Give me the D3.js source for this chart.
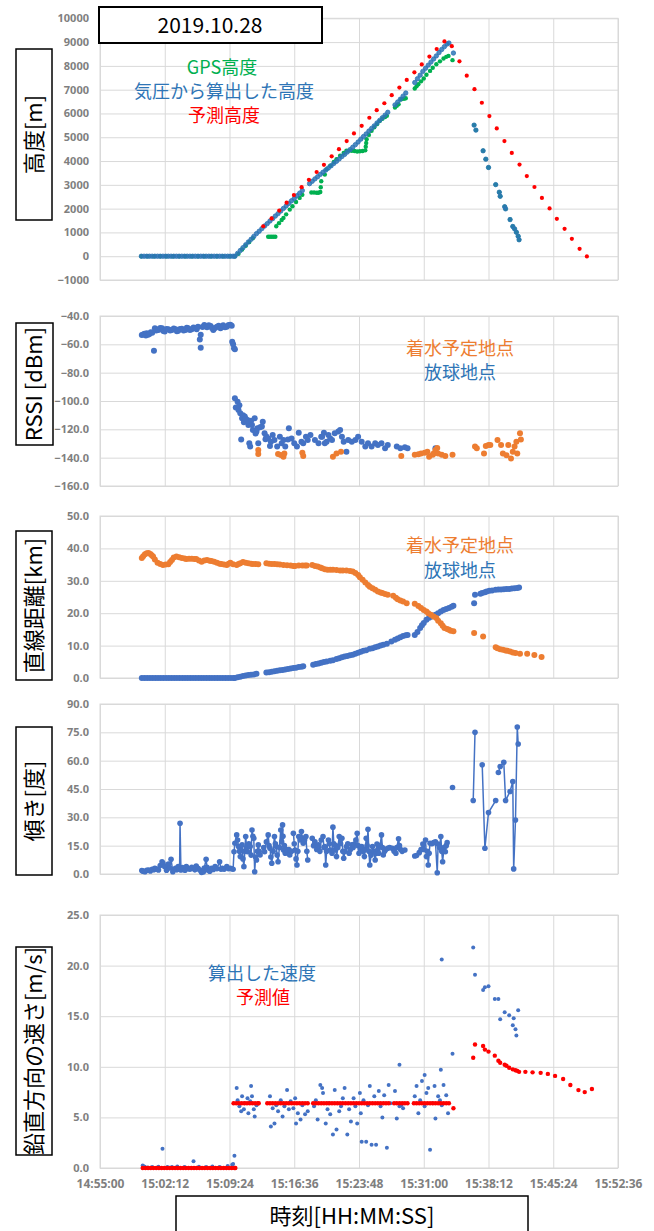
<!DOCTYPE html>
<html>
<head>
<meta charset="utf-8">
<script src="https://cdn.jsdelivr.net/npm/d3@7"></script>
<style>
body { margin: 0; background: #fff; }
text { font-family: "Noto Sans CJK JP", "Noto Sans", sans-serif; }
</style>
</head>
<body>
<div id="chart"></div>
<script>
// Balloon flight log 2019.10.28 - five stacked panels sharing one time axis
// all series times are minutes after 15:00:00

let xTickLabels = ["14:55:00","15:02:12","15:09:24","15:16:36","15:23:48","15:31:00","15:38:12","15:45:24","15:52:36"];

let altTicks = [-1000,0,1000,2000,3000,4000,5000,6000,7000,8000,9000,10000];
let rssiTicks = [-160,-140,-120,-100,-80,-60,-40];
let distTicks = [0,10,20,30,40,50];
let tiltTicks = [0,15,30,45,60,75,90];
let speedTicks = [0,5,10,15,20,25];

// altitude from GPS
let gpsAlt = [[-0.4,0],[0.3,0],[1.0,0],[1.7,0],[2.4,0],[3.1,0],[3.8,0],[4.5,0],[5.2,0],[5.9,0],[6.6,0],[7.3,0],[8.0,0],[8.7,0],[9.4,0],[10.0,0],
  [10.4,100],[10.8,280],[11.2,440],[11.6,600],[12.0,760],
  [13.7,820],[13.9,820],[14.1,820],[14.3,815],[14.5,820],
  [14.6,1260],[14.9,1390],[15.2,1520],[15.4,1610],[15.7,1760],[16.1,1960],[16.4,2100],[16.8,2280],[17.2,2450],[17.5,2580],
  [18.5,2680],[18.8,2680],[19.1,2670],[19.3,2670],[19.5,2700],[19.55,2900],
  [19.6,3150],[20.0,3430],[20.2,3660],[20.6,3800],[21.0,3960],[21.3,4080],[21.7,4220],[22.1,4340],[22.4,4430],
  [22.7,4440],[23.0,4430],[23.3,4420],[23.6,4400],[23.9,4410],[24.2,4420],[24.5,4450],[24.55,4600],[24.6,4760],
  [24.65,4920],[24.9,5100],[25.2,5270],[25.5,5420],[25.8,5550],[26.1,5680],[26.4,5780],[26.7,5850],[26.9,5900],
  [27.8,6250],[28.0,6320],[28.2,6390],[28.5,6600],[28.8,6620],[29.0,6640],
  [30.0,7050],[30.2,7140],[30.4,7230],[30.7,7350],[31.0,7470],[31.3,7630],[31.7,7790],[32.0,7920],[32.4,8070],[32.8,8190],[33.2,8310],[33.5,8380],[33.75,8420],[34.2,8240],
  [36.6,5510],[36.8,5300],[37.6,4430],[37.9,4080],[38.2,3730],[39.0,3010],[39.4,2690],[39.5,2520],[40.0,2080],[40.1,1990],[40.6,1540],[40.9,1250],[41.1,1150],[41.3,1010],[41.5,840],[41.6,690]];

// altitude computed from air pressure
let baroAlt = [[-0.4,0],[-0.1,0],[0.2,0],[0.5,0],[0.8,0],[1.1,0],[1.4,0],[1.7,0],[2.0,0],[2.3,0],[2.6,0],[2.9,0],[3.2,0],[3.5,0],[3.8,0],[4.1,0],[4.4,0],[4.7,0],[5.0,0],[5.3,0],[5.6,0],[5.9,0],[6.2,0],[6.5,0],[6.8,0],[7.1,0],[7.4,0],[7.7,0],[8.0,0],[8.3,0],[8.6,0],[8.9,0],[9.2,0],[9.5,0],[9.8,0],[10.0,0],
  [10.3,120],[10.6,240],[10.9,360],[11.2,480],[11.5,600],[11.8,710],[12.1,830],[12.4,950],[12.7,1050],[13.0,1160],[13.3,1270],[13.6,1370],[13.9,1480],[14.2,1580],[14.5,1690],[14.8,1790],[15.1,1900],[15.4,2010],[15.7,2110],[16.0,2220],[16.3,2330],[16.6,2430],[16.9,2540],[17.2,2650],[17.5,2760],
  [18.3,3050],[18.6,3150],[18.9,3250],[19.2,3340],[19.5,3440],[19.8,3530],[20.1,3620],[20.4,3710],[20.7,3800],[21.0,3900],[21.3,3990],[21.6,4090],[21.9,4190],[22.2,4280],[22.5,4380],[22.8,4480],[23.1,4580],[23.4,4690],[23.7,4800],[24.0,4920],[24.3,5030],[24.6,5140],[24.9,5260],[25.2,5370],[25.5,5480],[25.8,5600],[26.1,5710],[26.4,5820],[26.7,5930],[27.0,6050],
  [27.8,6360],[28.1,6480],[28.4,6600],[28.7,6730],[29.0,6860],
  [30.0,7300],[30.3,7460],[30.6,7610],[30.9,7770],[31.2,7900],[31.5,8030],[31.8,8160],[32.1,8290],[32.4,8420],[32.7,8560],[33.0,8690],[33.3,8810],[33.6,8920],[33.8,8960],[34.3,8540],
  [36.6,5510],[36.8,5300],[37.6,4430],[37.9,4080],[38.2,3730],[39.0,3010],[39.4,2690],[39.5,2520],[40.0,2080],[40.1,1990],[40.6,1540],[40.9,1250],[41.1,1150],[41.3,1010],[41.5,840],[41.6,690]];

// predicted altitude
let predAlt = [[13.15,1260],[14.08,1590],[14.93,1920],[15.75,2250],[16.56,2570],[17.42,2900],[18.23,3210],[19.09,3540],[19.9,3840],
  [20.76,4200],[21.57,4500],[22.43,4840],[23.24,5160],[24.1,5480],[24.95,5820],[25.77,6140],[26.62,6430],[27.44,6770],[28.29,7090],[29.11,7410],[29.96,7730],[30.78,8060],[31.63,8390],[32.44,8710],[33.3,9030],
  [34.12,8830],[34.97,8190],[35.78,7590],[36.64,7020],[37.46,6450],[38.3,5890],[39.12,5370],[39.97,4840],[40.79,4340],[41.65,3850],[42.46,3370],[43.31,2910],[44.14,2450],[44.99,2010],[45.8,1570],[46.66,1150],[47.47,730],[48.33,310],[49.14,-10]];

// RSSI of the launch site receiver
let rssiLaunch = [[-0.35,-53.4],[-0.2,-53],[-0.05,-52.6],[0.1,-53.8],[0.2,-52.2],[0.35,-53.2],[0.5,-52.7],[0.65,-51.5],[0.8,-51.8],[1.0,-64.5],[1.1,-48.7],[1.25,-50.2],[1.4,-49.5],[1.5,-49.9],[1.7,-48.4],[1.9,-48.7],[2.05,-50.5],[2.2,-51],[2.4,-49.2],[2.6,-49.4],[2.8,-50.3],[3.0,-49.9],[3.2,-48.9],[3.4,-49.4],[3.55,-50.8],[3.7,-50.4],[3.9,-49.1],[4.1,-49],[4.3,-50.2],[4.5,-49.9],[4.65,-48.3],[4.8,-48.7],[5.0,-49.8],[5.2,-49.4],[5.4,-48.1],[5.6,-48.5],[5.75,-49.3],[5.9,-47.5],[6.1,-56.5],[6.2,-53.2],[6.2,-62.4],[6.4,-47.8],[6.6,-46.4],[6.75,-47.2],[6.9,-48],[7.1,-46.6],[7.3,-47],[7.45,-48.5],[7.6,-49.9],[7.8,-48.4],[8.0,-47.5],[8.2,-46.8],[8.4,-48.7],[8.55,-47.7],[8.7,-46.6],[8.9,-47.9],[9.1,-47.5],[9.3,-46.3],[9.5,-46.1],[9.65,-46.8],[9.7,-58.1],[9.8,-60],[9.9,-62.8],[10.0,-63.5],
  [10.0,-98.1],[10.3,-100.5],[10.1,-104.5],[10.4,-106.4],[10.5,-103],[10.6,-108.7],[10.7,-127.1],[10.8,-112.2],[10.9,-110],[11.0,-115],[11.1,-111],[11.2,-112.5],[11.4,-113.4],[11.5,-117],[11.6,-129.9],[11.7,-132.2],[11.8,-114],[11.9,-116.9],[12.0,-120.5],[12.2,-112.2],[12.3,-123],[12.4,-121.6],[12.5,-119.3],[12.6,-129.9],[12.8,-118.6],[13.0,-118],[13.1,-114.6],[13.3,-122.8],[13.4,-127],[13.5,-125],[13.7,-126.4],[13.9,-131.8],[14.0,-128.7],[14.2,-124],[14.4,-127.5],[14.7,-132.2],[15.0,-125.2],[15.2,-129.9],[15.4,-127.5],[15.6,-132.2],[15.9,-127.1],[16.0,-119.3],[16.3,-126.4],[16.6,-129.9],[16.9,-132.2],[17.1,-122.4],[17.4,-128.7],[17.6,-129.9],[17.9,-125.2],[18.1,-127.5],[18.4,-124],[18.9,-127.5],[19.3,-129.9],[19.6,-125.2],[19.7,-125.2],[19.9,-122.4],[20.0,-129.9],[20.2,-128.7],[20.4,-124],[20.6,-126.4],[20.8,-127.5],[21.1,-122.8],[21.5,-121.6],[21.7,-120.5],[21.9,-125.2],[22.1,-128.7],[22.4,-135.8],[22.6,-127.5],[23.0,-128.7],[23.4,-127.5],[23.7,-125.2],[24.1,-128.7],[24.5,-132.2],[24.8,-129.9],[25.2,-132.2],[25.6,-129.9],[25.9,-131],[26.3,-129.9],[26.7,-133.4],[27.0,-131],[28.0,-132.2],[28.4,-133.4],[28.9,-132.7],[29.2,-133.4],[32.3,-133.4]];

// RSSI of the planned splash-down site receiver
let rssiLanding = [[12.6,-134.6],[12.6,-137.4],[14.8,-137.4],[15.1,-138.2],[15.4,-139.3],[15.5,-137],[17.5,-136.5],[17.6,-138.8],[20.9,-139.3],[21.3,-137],[21.8,-135.8],[28.5,-138.8],[30.0,-138],[30.4,-137.5],[30.7,-137],[31.1,-136.5],[31.4,-135.8],[31.6,-139.3],[32.0,-138],[32.1,-137],[32.3,-134.5],[32.5,-133.2],[32.6,-137],[33.0,-138],[33.4,-138.8],[34.2,-138],[36.7,-132.2],[36.9,-133.4],[37.7,-137],[37.9,-131.8],[38.2,-131],[38.4,-131],[39.2,-127.5],[39.6,-131],[39.8,-137],[40.2,-138.3],[40.4,-131],[40.7,-140.5],[40.9,-135.8],[41.1,-132.2],[41.3,-128.7],[41.4,-137],[41.7,-122.8],[41.8,-127.1]];

// straight-line distance [km] from the splash-down site
let distLanding = [[-0.35,37],[-0.2,37.6],[0.0,38.2],[0.2,38.5],[0.4,38.6],[0.6,38.3],[0.75,37.9],[0.9,37.5],[1.1,36.6],[1.4,35.6],[1.7,35.2],[2.0,34.9],[2.3,35],[2.6,35.1],[2.8,35.8],[3.0,36.4],[3.2,37.2],[3.5,37.5],[3.8,37.3],[4.1,37],[4.4,36.9],[4.6,36.7],[4.9,36.8],[5.2,36.8],[5.5,36.7],[5.7,36.7],[6.0,36.3],[6.3,35.9],[6.6,36.3],[6.9,36.4],[7.2,36.2],[7.4,36.1],[7.7,35.9],[8.0,35.6],[8.3,35.3],[8.5,35.2],[8.8,35.0],[9.1,34.9],[9.3,35.3],[9.5,35.6],[9.8,35.1],[10.2,34.9],[10.4,35.2],[10.6,35.4],[10.9,35.8],[11.2,35.6],[11.5,35.4],[11.8,35.3],[12.0,35.2],[12.3,35.2],[12.6,35.1],
  [13.5,35.4],[13.8,35.3],[14.1,35.2],[14.4,35.2],[14.7,35.1],[15.0,35],[15.4,34.9],[15.8,34.8],[16.2,34.7],[16.5,34.6],[16.7,34.6],[17.1,34.7],[17.5,34.7],[17.8,34.7],[18.0,34.7],
  [18.6,34.9],[18.9,34.6],[19.2,34.4],[19.5,34.1],[19.7,33.9],[20.0,33.6],[20.3,33.4],[20.6,33.4],[20.9,33.4],[21.3,33.3],[21.7,33.2],[22.0,33.2],[22.4,33.2],[22.8,33.0],[23.1,32.9],[23.4,32.4],[23.7,31.8],[23.9,31.1],[24.2,30.3],[24.5,29.5],[24.8,28.7],[25.0,28.2],[25.3,27.7],[25.6,27.2],[25.9,26.7],[26.2,26.4],[26.4,26.2],[26.7,25.9],[27.0,25.7],
  [27.6,25.4],[27.9,24.8],[28.1,24.3],[28.4,23.9],[28.7,23.6],[29.1,23.1],
  [30.0,22.9],[30.4,22.2],[30.7,21.6],[31.0,21.0],[31.3,20.5],[31.5,20.0],[31.8,19.5],[32.1,19.0],[32.4,18.5],[32.6,17.7],[32.9,16.9],[33.1,16.1],[33.3,15.4],[33.6,15.1],[33.8,14.9],[34.0,14.6],[34.3,14.4],
  [36.6,13.9],[37.6,12.8],
  [39.0,9.5],[39.2,9.2],[39.5,8.9],[39.8,8.7],[40.1,8.5],[40.3,8.4],[40.6,8.2],[40.9,7.9],[41.2,7.7],[41.7,7.5],[42.5,7.5],[43.3,7.1],[44.1,6.5]];

// straight-line distance [km] from the launch site
let distLaunch = [[-0.35,0],[-0.05,0],[0.25,0],[0.55,0],[0.85,0],[1.15,0],[1.45,0],[1.75,0],[2.05,0],[2.35,0],[2.65,0],[2.95,0],[3.25,0],[3.55,0],[3.85,0],[4.15,0],[4.45,0],[4.75,0],[5.05,0],[5.35,0],[5.65,0],[5.95,0],[6.25,0],[6.55,0],[6.85,0],[7.15,0],[7.45,0],[7.75,0],[8.05,0],[8.35,0],[8.65,0],[8.95,0],[9.25,0],[9.55,0],[9.85,0],[10.0,0],
  [10.3,0.2],[10.6,0.4],[10.9,0.6],[11.2,0.8],[11.5,0.9],[11.8,1.0],[12.1,1.1],[12.4,1.3],
  [13.5,1.7],[13.8,1.8],[14.1,1.9],[14.4,2.1],[14.7,2.2],[15.0,2.4],[15.3,2.5],[15.6,2.6],[15.9,2.8],[16.2,2.9],[16.5,3.1],[16.8,3.2],[17.1,3.4],[17.4,3.5],[17.6,3.6],
  [18.7,4.1],[19.0,4.3],[19.3,4.5],[19.6,4.7],[19.9,4.9],[20.2,5.1],[20.6,5.3],[20.9,5.5],[21.3,5.9],[21.6,6.1],[21.9,6.4],[22.2,6.6],[22.5,6.8],[22.8,7.0],[23.1,7.2],[23.4,7.5],[23.7,7.8],[24.0,8.1],[24.3,8.4],[24.6,8.6],[25.0,9.0],[25.3,9.2],[25.6,9.5],[25.9,9.7],[26.2,10.0],[26.5,10.3],[26.9,10.6],
  [27.4,11.3],[27.8,11.8],[28.1,12.2],[28.4,12.6],[28.7,13.0],[29.0,13.2],[29.2,13.3],
  [30.0,13.3],[30.3,14.2],[30.6,15.4],[30.8,16.3],[31.0,17.0],[31.3,18.0],[31.6,18.6],[31.9,19.0],[32.3,19.5],[32.6,20.0],[32.9,20.5],[33.2,21.0],[33.5,21.3],[33.8,21.6],[34.1,22.0],[34.3,22.3],
  [36.6,23.1],[36.7,25.7],[37.3,26.0],[37.5,26.2],[37.8,26.5],[38.0,26.7],[38.3,26.9],[38.6,27.0],[39.0,27.2],[39.3,27.3],[39.6,27.3],[39.9,27.4],[40.2,27.5],[40.5,27.5],[40.8,27.6],[41.1,27.7],[41.4,27.8],[41.6,27.9]];

// tilt [deg], null = gap in the line
let tilt = [[-0.35,1.8],[-0.2,1.5],[0.0,1.2],[0.2,2.0],[0.4,2.1],[0.6,1.6],[0.8,2.5],[1.0,2.2],[1.1,3],[1.3,2.6],[1.5,2.1],[1.7,4.5],[1.9,6.5],[2.0,5.7],[2.2,3.9],[2.4,2.0],[2.6,5.3],[2.75,3.2],[2.9,7.8],[3.1,1.2],[3.25,2.4],[3.4,3],[3.55,2.2],[3.7,3.9],[3.85,2.6],[3.9,26.9],[4.0,2.1],[4.15,3.4],[4.3,3],[4.45,2.0],[4.6,3.9],[4.8,2.8],[5.0,2.5],[5.2,3.5],[5.4,3],[5.55,2.2],[5.7,4.2],[5.9,3.0],[6.1,2.1],[6.3,0.8],[6.5,1.2],[6.6,3.2],[6.8,7.8],[6.9,3.5],[7.0,2.1],[7.2,1.5],[7.4,3],[7.6,2.4],[7.8,3.9],[8.0,2.8],[8.3,6.5],[8.45,2.6],[8.6,3],[8.8,2.5],[9.1,3.9],[9.3,2.8],[9.5,3],[9.65,2.8],[9.8,2.5],
  [9.9,11.8],[10.0,16.3],[10.2,20.7],[10.3,18],[10.4,14.5],[10.5,12],[10.6,9.2],[10.7,12.5],[10.8,15.4],[10.9,8],[11.0,3.9],[11.1,12],[11.2,19.8],[11.3,14],[11.4,11.8],[11.55,16],[11.7,14.5],[11.8,10],[11.9,23.3],[12.0,20],[12.1,18.9],[12.2,1.2],[12.3,9],[12.4,7.4],[12.5,12],[12.6,15.4],[12.7,12],[12.8,10.1],
  null,
  [13.2,14],[13.3,11.8],[13.5,17],[13.7,20.7],[13.8,15],[13.9,13.6],[14.0,9],[14.1,5.7],[14.25,12],[14.4,19.8],[14.5,16],[14.6,14.5],[14.7,10],[14.8,6.5],[14.95,14],[15.1,23.3],[15.2,17],[15.3,26],[15.35,20],[15.4,12.7],[15.5,15],[15.6,11],[15.75,13],[15.9,11.8],[16.0,13],[16.1,10.1],[16.3,12],
  null,
  [16.5,21.6],[16.6,16],[16.7,12.7],[16.8,8],[16.9,4.8],[17.0,12],[17.1,19.8],[17.25,18],[17.4,22.5],[17.5,19],[17.6,16.3],[17.75,18],[17.9,19.8],[18.0,12],[18.1,7.4],
  null,
  [18.6,18.9],[18.75,15],[18.9,17.1],[19.1,13],[19.3,15.4],[19.45,12],[19.6,18],[19.8,19.8],[19.9,14],[20.0,14.5],[20.1,4.8],[20.2,12],[20.4,18],[20.5,16],[20.6,12.7],[20.8,11],[20.9,24.8],[21.0,16],[21.1,12.7],[21.2,15],[21.3,9.2],[21.45,14],[21.6,19.8],[21.75,16],[21.9,18.9],[22.0,12],[22.1,8.3],[22.25,12],[22.4,14.5],[22.55,16],[22.7,11],[22.85,13],[23.0,15.4],[23.15,14],[23.3,15.9],[23.45,18],[23.6,21.6],[23.7,15],[23.8,11],[23.95,13],[24.1,14.5],[24.25,12],[24.4,9.2],[24.5,13],[24.6,18.9],[24.7,15],[24.8,23.7],[24.9,12],[25.0,4.8],[25.15,10],[25.3,14.5],[25.45,12],[25.6,7.4],[25.7,11],[25.8,15.9],[25.9,13],[26.0,11],[26.15,15],[26.3,20.7],[26.4,14],[26.5,10.1],[26.65,12],[26.8,13.1],
  null,
  [27.0,13.6],[27.2,14],[27.5,13.6],[27.7,12],[27.9,11],[28.0,14],[28.2,18.6],[28.3,15],[28.4,13.1],[28.6,12],[28.9,12.7],
  null,
  [30.0,9.5],[30.2,9.8],[30.5,11.3],[30.7,13],[30.9,15.9],[31.0,13],[31.2,18],[31.3,9.2],[31.4,12],[31.5,4.8],[31.6,11],[31.7,16.3],[31.9,16],[32.1,16.6],[32.3,17.1],[32.5,0.7],[32.6,15.9],[32.75,14],[32.9,19.8],[33.0,12],[33.1,6.5],[33.25,14],[33.4,11.8],[33.5,15],[33.6,16.6],
  null,
  [34.2,45.8],
  null,
  [36.5,38.9],[36.7,75],
  null,
  [37.5,57.8],[37.8,13.6],[38.2,32.5],[39.0,38.9],
  null,
  [39.3,53.7],[39.5,56.9],[39.9,59.1],[40.1,38.9],[40.6,43.7],[40.9,49],[41.0,2.7],[41.2,28.6],[41.4,77.8],[41.5,68.8]];

// vertical speed computed from the altitude [m/s]
let speedCalc = [[-0.25,0.25],[-0.1,0.15],[0.0,0.1],[0.3,0.05],[0.8,0.1],[1.5,0.12],[1.95,1.9],[2.5,0.1],[3.0,0.1],[3.6,0.15],[4.4,0.1],[5.4,0.66],[6.0,0.12],[6.8,0.1],[7.5,0.15],[8.3,0.1],[9.2,0.2],[9.7,0.33],[9.8,0.4],[9.95,1.2],
  [10.2,7.9],[10.3,6.7],[10.5,6.1],[10.7,5.6],[10.8,7.1],[11.0,5.8],[11.1,6.4],[11.4,6.9],[11.5,5.4],[11.7,6.6],[11.8,8.1],[11.9,7.1],[12.1,5.8],[12.2,5.1],[12.4,6.2],
  [13.9,7.1],[14.0,4.1],[14.2,5.9],[14.4,4.4],[14.6,6.2],[14.8,5.6],[15.1,6.7],[15.3,5.1],[15.5,6.1],[15.8,7.7],[16.0,5.8],[16.2,6.6],[16.5,5.9],[16.7,6.9],[16.8,4.4],[17.0,5.4],[17.3,4.8],[17.5,6.2],[17.8,5.3],[18.1,5.6],
  [18.8,6.1],[19.0,6.7],[19.2,4.8],[19.5,8.2],[19.7,7.9],[19.8,7.4],[20.1,4.4],[20.3,5.8],[20.4,6.4],[20.6,5.3],[20.9,3.3],[21.1,7.7],[21.3,3.8],[21.6,5.6],[21.8,6.1],[22.0,6.9],[22.2,7.9],[22.5,3.3],[22.7,5.8],[22.9,4.6],[23.2,6.9],[23.4,6.1],[23.6,4.4],[23.9,7.4],[24.0,5.4],[24.1,2.6],[24.3,6.7],[24.6,2.6],[24.8,6.2],[25.0,8.1],[25.2,2.3],[25.5,7.1],[25.7,2.3],[26.0,7.6],[26.2,6.1],[26.4,5.0],[26.6,7.2],[26.9,2.0],[27.1,8.2],[27.3,6.4],
  [27.8,7.6],[28.0,4.9],[28.3,6.1],[28.5,6.2],[28.7,5.9],
  [30.0,7.1],[30.2,8.1],[30.4,5.4],[30.6,6.7],[30.8,8.6],[31.1,6.1],[31.3,7.4],[31.5,7.9],[31.7,1.8],[32.0,6.4],[32.2,8.1],[32.3,4.9],[32.6,7.1],[32.8,6.7],[33.0,6.2],[33.2,8.2],[33.5,7.2],[33.7,5.4],
  [28.3,10.2],[31.1,9.2],[32.9,9.7],[33.0,20.6],[34.2,11.3],
  [36.5,21.8],[36.7,19.1],[37.6,17.6],[37.8,17.85],[38.2,17.95],[38.9,16.7],[39.3,16.7],[39.5,14.7],[40.0,15.4],[40.5,15.1],[40.9,14.1],[41.0,14.8],[41.2,13.7],[41.3,13.1],[41.5,15.6]];

// predicted vertical speed [m/s]
let speedPred = [[-0.25,0],[0.05,0],[0.35,0],[0.65,0],[0.95,0],[1.25,0],[1.55,0],[1.85,0],[2.15,0],[2.45,0],[2.75,0],[3.05,0],[3.35,0],[3.65,0],[3.95,0],[4.25,0],[4.55,0],[4.85,0],[5.15,0],[5.45,0],[5.75,0],[6.05,0],[6.35,0],[6.65,0],[6.95,0],[7.25,0],[7.55,0],[7.85,0],[8.15,0],[8.45,0],[8.75,0],[9.05,0],[9.35,0],[9.65,0],[9.95,0],[10.05,0],
  [9.85,6.4],[10.15,6.4],[10.45,6.4],[10.75,6.4],[11.05,6.4],[11.35,6.4],[11.65,6.4],[11.95,6.4],[12.25,6.4],[12.55,6.4],[12.65,6.4],
  [13.6,6.4],[13.9,6.4],[14.2,6.4],[14.5,6.4],[14.8,6.4],[15.1,6.4],[15.4,6.4],[15.7,6.4],[16.0,6.4],[16.3,6.4],[16.6,6.4],[16.9,6.4],[17.2,6.4],[17.5,6.4],[17.8,6.4],[18.1,6.4],
  [18.7,6.4],[19.0,6.4],[19.3,6.4],[19.6,6.4],[19.9,6.4],[20.2,6.4],[20.5,6.4],[20.8,6.4],[21.1,6.4],[21.4,6.4],[21.7,6.4],[22.0,6.4],[22.3,6.4],[22.6,6.4],[22.9,6.4],[23.2,6.4],[23.5,6.4],[23.8,6.4],[24.1,6.4],[24.4,6.4],[24.7,6.4],[25.0,6.4],[25.3,6.4],[25.6,6.4],[25.9,6.4],[26.2,6.4],[26.5,6.4],[26.8,6.4],[27.1,6.4],
  [27.7,6.4],[28.0,6.4],[28.3,6.4],[28.6,6.4],[28.9,6.4],[29.2,6.4],
  [29.9,6.4],[30.2,6.4],[30.5,6.4],[30.8,6.4],[31.1,6.4],[31.4,6.4],[31.7,6.4],[32.0,6.4],[32.3,6.4],[32.6,6.4],[32.9,6.4],[33.2,6.4],[33.5,6.4],[33.8,6.4],[34.3,5.9],
  [36.5,10.9],[36.7,12.2],[37.6,12.05],[37.8,11.7],[38.2,11.5],[38.9,11.1],[39.3,10.6],[39.5,10.4],[40.0,10.2],[40.2,10.1],[40.5,9.9],[40.9,9.75],[41.2,9.66],[41.4,9.6],[41.6,9.5],[42.3,9.5],[43.1,9.45],[44.0,9.4],[44.8,9.3],[45.6,9.1],[46.5,8.8],[47.3,8.2],[48.2,7.7],[48.9,7.5],[49.7,7.8]];

let svg = d3.select("#chart")
    .append("svg")
    .attr("width", 654)
    .attr("height", 1231);

let parseTime = d3.timeParse("%H:%M:%S");
let base = parseTime("15:00:00");
function toTime(m) { return new Date(base.getTime() + m * 60000); }

let xTicks = xTickLabels.map(parseTime);
let left = 100, right = 618;
let x = d3.scaleTime()
    .domain([xTicks[0], xTicks[xTicks.length - 1]])
    .range([left, right]);

// grid, frame and y labels for one panel
function buildPanel(top, bottom, ticks, fmt) {
    let y = d3.scaleLinear()
        .domain([ticks[0], ticks[ticks.length - 1]])
        .range([bottom, top]);
    let g = svg.append("g");

    g.append("g")
        .attr("transform", "translate(" + left + ",0)")
        .call(d3.axisLeft(y).tickValues(ticks).tickSize(-(right - left)).tickFormat(""))
        .call(a => a.select(".domain").remove())
        .selectAll("line").attr("stroke", "#d9d9d9");

    g.append("g")
        .attr("transform", "translate(0," + bottom + ")")
        .call(d3.axisBottom(x).tickValues(xTicks).tickSize(-(bottom - top)).tickFormat(""))
        .call(a => a.select(".domain").remove())
        .selectAll("line").attr("stroke", "#d9d9d9");

    g.append("rect")
        .attr("x", left).attr("y", top)
        .attr("width", right - left).attr("height", bottom - top)
        .attr("fill", "none").attr("stroke", "#d9d9d9");

    g.append("g")
        .attr("transform", "translate(" + left + ",0)")
        .call(d3.axisLeft(y).tickValues(ticks).tickFormat(d3.format(fmt)).tickSize(0).tickPadding(11))
        .call(a => a.select(".domain").remove())
        .selectAll("text")
            .style("font-family", "'Noto Sans', sans-serif")
            .style("font-size", "11px")
            .style("font-weight", "bold")
            .attr("fill", "#7f7f7f");
    return y;
}

function dots(y, data, r, fill, stroke, opacity) {
    svg.append("g").selectAll("circle")
        .data(data.filter(d => d !== null))
        .enter()
        .append("circle")
            .attr("cx", d => x(toTime(d[0])))
            .attr("cy", d => y(d[1]))
            .attr("r", r)
            .attr("fill", fill)
            .attr("fill-opacity", opacity || 1)
            .attr("stroke", stroke || "none")
            .attr("stroke-width", 0.8);
}

function labelBox(x0, y0, w, h, txt) {
    svg.append("rect")
        .attr("x", x0).attr("y", y0).attr("width", w).attr("height", h)
        .attr("fill", "#fff").attr("stroke", "#000").attr("stroke-width", 1.5);
    svg.append("text")
        .attr("transform", "translate(" + (x0 + w / 2) + "," + (y0 + h / 2) + ") rotate(-90)")
        .attr("text-anchor", "middle")
        .attr("dy", "0.36em")
        .style("font-size", "22px")
        .attr("fill", "#000")
        .text(txt);
}

function note(cx, cy, txt, color) {
    svg.append("text")
        .attr("x", cx).attr("y", cy)
        .attr("text-anchor", "middle")
        .style("font-size", "18px")
        .attr("fill", color)
        .text(txt);
}

// altitude
let yAlt = buildPanel(18.3, 280, altTicks, "d");
dots(yAlt, gpsAlt, 2.2, "#00b050");
dots(yAlt, baroAlt, 2.2, "#2e75b6", "#2e75b6", 0.85);
dots(yAlt, predAlt, 2.1, "#ff0000");

// RSSI
let yRssi = buildPanel(316, 486, rssiTicks, ".1f");
dots(yRssi, rssiLaunch, 3, "#4472c4");
dots(yRssi, rssiLanding, 3, "#ed7d31");

// distance
let yDist = buildPanel(516, 678, distTicks, ".1f");
dots(yDist, distLaunch, 3, "#4472c4");
dots(yDist, distLanding, 3, "#ed7d31");

// tilt
let yTilt = buildPanel(704, 874, tiltTicks, ".1f");
svg.append("path")
    .datum(tilt)
    .attr("fill", "none")
    .attr("stroke", "#4472c4")
    .attr("stroke-width", 1.5)
    .attr("d", d3.line().defined(d => d !== null).x(d => x(toTime(d[0]))).y(d => yTilt(d[1])));
dots(yTilt, tilt, 2.8, "#4472c4");

// vertical speed
let ySpeed = buildPanel(915, 1168, speedTicks, ".1f");
dots(ySpeed, speedCalc, 2, "#4472c4");
dots(ySpeed, speedPred, 2.2, "#ff0000");

// shared time axis labels
svg.append("g")
    .attr("transform", "translate(0,1168)")
    .call(d3.axisBottom(x).tickValues(xTicks).tickFormat(d3.timeFormat("%H:%M:%S")).tickSize(0).tickPadding(11))
    .call(a => a.select(".domain").remove())
    .selectAll("text")
        .style("font-family", "'Noto Sans', sans-serif")
        .style("font-size", "12px")
        .style("font-weight", "bold")
        .attr("fill", "#7f7f7f");

// series notes
note(222, 74, "GPS高度", "#00b050");
note(224, 98, "気圧から算出した高度", "#2e75b6");
note(224, 122, "予測高度", "#ff0000");
note(460, 355, "着水予定地点", "#ed7d31");
note(460, 379, "放球地点", "#2e75b6");
note(460, 552, "着水予定地点", "#ed7d31");
note(460, 577, "放球地点", "#2e75b6");
note(262, 980, "算出した速度", "#2e75b6");
note(263, 1004, "予測値", "#ff0000");

// axis title boxes
labelBox(16, 49, 36, 171, "高度[m]");
labelBox(16, 323, 37, 122, "RSSI [dBm]");
labelBox(16, 531, 36, 149, "直線距離[km]");
labelBox(16, 727, 36, 148, "傾き[度]");
labelBox(16, 947, 36, 208, "鉛直方向の速さ[m/s]");

// date box
svg.append("rect")
    .attr("x", 99).attr("y", 7).attr("width", 223).attr("height", 36)
    .attr("fill", "#fff").attr("stroke", "#000").attr("stroke-width", 2);
svg.append("text")
    .attr("x", 210).attr("y", 25).attr("dy", "0.36em")
    .attr("text-anchor", "middle")
    .style("font-size", "21px")
    .text("2019.10.28");

// time axis title box
svg.append("rect")
    .attr("x", 176).attr("y", 1196).attr("width", 352).attr("height", 50)
    .attr("fill", "#fff").attr("stroke", "#000").attr("stroke-width", 1.5);
svg.append("text")
    .attr("x", 352).attr("y", 1216).attr("dy", "0.36em")
    .attr("text-anchor", "middle")
    .style("font-size", "22px")
    .text("時刻[HH:MM:SS]");
</script>
</body>
</html>
